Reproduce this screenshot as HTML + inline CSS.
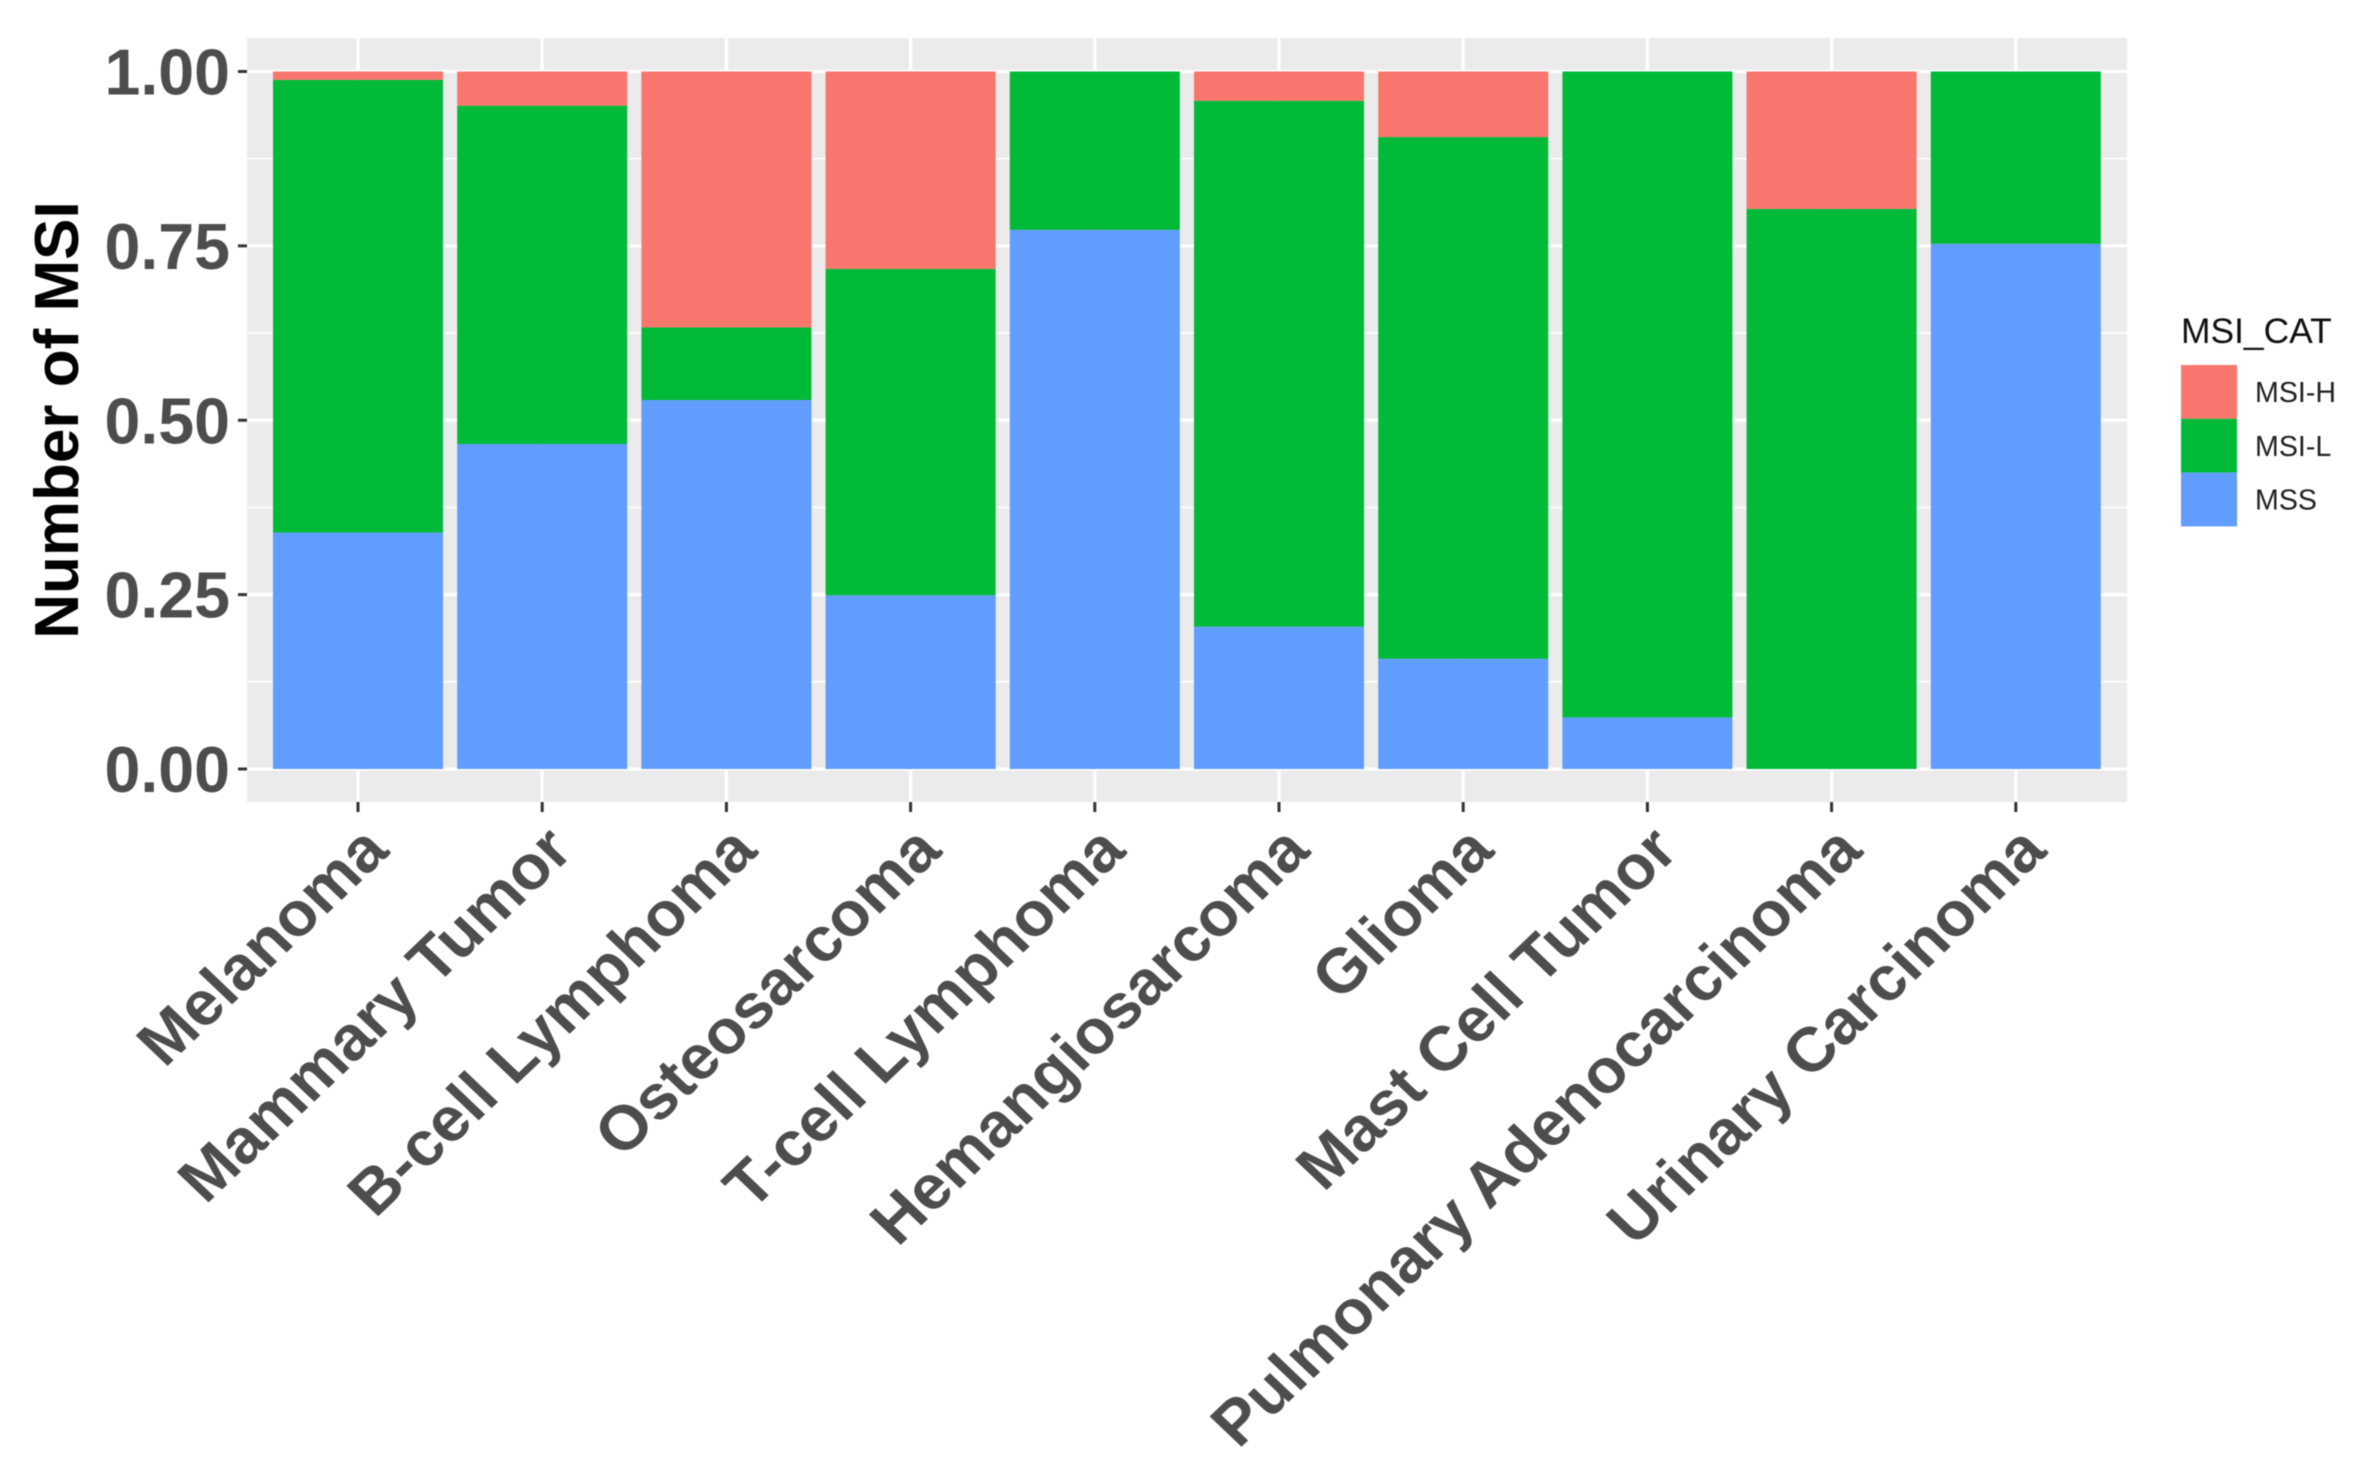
<!DOCTYPE html>
<html lang="en">
<head>
<meta charset="utf-8">
<title>Number of MSI by tumor type</title>
<style>
html,body{margin:0;padding:0;background:#fff;width:2356px;height:1482px;overflow:hidden}
svg{display:block;font-family:"Liberation Sans",Arial,sans-serif;filter:blur(0.6px)}
</style>
</head>
<body>
<svg id="chart" xmlns="http://www.w3.org/2000/svg" width="2356" height="1482" viewBox="0 0 2356 1482">
<rect x="0" y="0" width="2356" height="1482" fill="#ffffff"/>
<rect x="247" y="38" width="1880" height="764" fill="#ebebeb"/>
<g id="grid"></g>
<g id="bars"></g>
<g id="axes"></g>
<text transform="translate(78 420) rotate(-90)" text-anchor="middle" font-size="62" font-weight="700" fill="#000000">Number of MSI</text>
<g>
<text x="2181" y="343" font-size="35.4" fill="#111111">MSI_CAT</text>
<g id="legend-items"></g>
</g>
</svg>
<script>
const categories = ["Melanoma","Mammary Tumor","B-cell Lymphoma","Osteosarcoma","T-cell Lymphoma","Hemangiosarcoma","Glioma","Mast Cell Tumor","Pulmonary Adenocarcinoma","Urinary Carcinoma"];
const mssValues = [0.339,0.466,0.529,0.249,0.773,0.204,0.158,0.074,0,0.753];
const msiLValues = [0.649,0.485,0.104,0.468,0.227,0.754,0.748,0.926,0.803,0.247];
const msiHValues = [0.012,0.049,0.367,0.283,0,0.042,0.094,0,0.197,0];
const yTicks = [0,0.25,0.5,0.75,1];
const yTickLabels = ["0.00","0.25","0.50","0.75","1.00"];
const yMinorTicks = [0.125,0.375,0.625,0.875];
const legendLabels = ["MSI-H","MSI-L","MSS"];
const legendColors = ["#F8766D","#00BA38","#619CFF"];

const NS = "http://www.w3.org/2000/svg";
const panelLeft = 247, panelRight = 2127, panelTop = 38, panelBottom = 802;
const yZero = 769, yOne = 71.5;
const firstCat = 358, catStep = 184.2;
const barWidth = 170;
function yScale(v){ return yZero + (yOne - yZero) * v; }
function xScale(i){ return firstCat + catStep * i; }
function make(tag, attrs, parent){
  const el = document.createElementNS(NS, tag);
  for (const k in attrs) el.setAttribute(k, attrs[k]);
  parent.appendChild(el);
  return el;
}
const grid = document.getElementById("grid");
const bars = document.getElementById("bars");
const axes = document.getElementById("axes");
const legendItems = document.getElementById("legend-items");

yMinorTicks.forEach(function(v){
  const l = make("line", {x1:panelLeft,x2:panelRight,y1:yScale(v),y2:yScale(v),stroke:"#ffffff","stroke-width":1.6}, grid);
  
  
});
yTicks.forEach(function(v, i){
  const y = yScale(v);
  const l = make("line", {x1:panelLeft,x2:panelRight,y1:y,y2:y,stroke:"#ffffff","stroke-width":3.2}, grid);
  
  
  const t = make("line", {x1:238,x2:panelLeft,y1:y,y2:y,stroke:"#333333","stroke-width":3}, axes);
  
  
  const label = make("text", {x:230,y:y+23,"text-anchor":"end","font-size":64.5,"font-weight":700,fill:"#4d4d4d"}, axes);
  label.textContent = yTickLabels[i];
  
  
});
categories.forEach(function(name, i){
  const x = xScale(i);
  const g = make("line", {x1:x,x2:x,y1:panelTop,y2:panelBottom,stroke:"#ffffff","stroke-width":3.2}, grid);
  
  
  const left = x - barWidth / 2;
  const s0 = mssValues[i], s1 = s0 + msiLValues[i], s2 = s1 + msiHValues[i];
  if (mssValues[i] > 0) {
    const r = make("rect", {x:left,width:barWidth,y:yScale(s0),height:yScale(0)-yScale(s0),fill:legendColors[2]}, bars);
    
    
  }
  if (msiLValues[i] > 0) {
    const r = make("rect", {x:left,width:barWidth,y:yScale(s1),height:yScale(s0)-yScale(s1),fill:legendColors[1]}, bars);
    
    
  }
  if (msiHValues[i] > 0) {
    const r = make("rect", {x:left,width:barWidth,y:yScale(s2),height:yScale(s1)-yScale(s2),fill:legendColors[0]}, bars);
    
    
  }
  const t = make("line", {x1:x,x2:x,y1:panelBottom,y2:panelBottom+10,stroke:"#333333","stroke-width":3}, axes);
  
  
  const ax = x + 33, ay = 853;
  const label = make("text", {x:0,y:0,"text-anchor":"end","font-size":65.5,"font-weight":700,fill:"#4d4d4d",transform:"translate("+ax+" "+ay+") scale(1 0.953) rotate(-45)"}, axes);
  label.textContent = name;
  
  
});
legendLabels.forEach(function(name, i){
  const top = 365 + i * 53.8;
  const r = make("rect", {x:2181,y:top,width:56,height:53.8,fill:legendColors[i]}, legendItems);
  
  
  const t = make("text", {x:2255,y:top+37,"font-size":28.6,fill:"#222222"}, legendItems);
  t.textContent = name;
  
  
});
</script>
</body>
</html>
